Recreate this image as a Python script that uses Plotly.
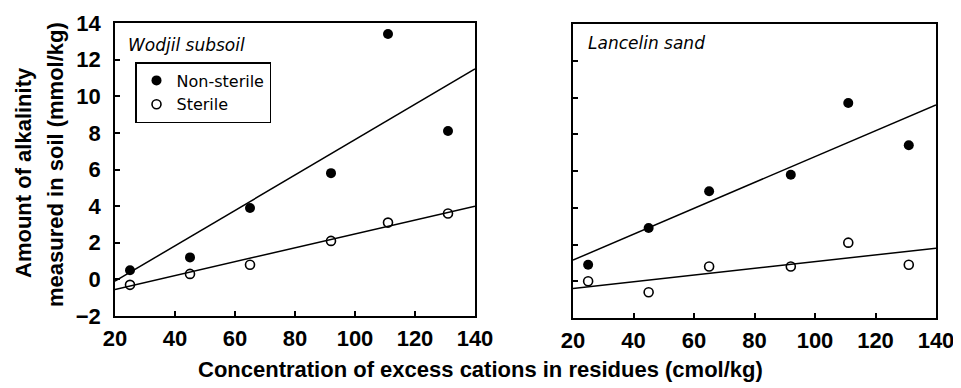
import plotly.graph_objects as go

# ---- data ----
x_vals = [25, 45, 65, 92, 111, 131]

wodjil_nonsterile = [0.5, 1.2, 3.9, 5.8, 13.4, 8.1]
wodjil_sterile = [-0.3, 0.3, 0.8, 2.1, 3.1, 3.6]

lancelin_nonsterile = [0.9, 2.9, 4.9, 5.8, 9.7, 7.4]
lancelin_sterile = [0.0, -0.6, 0.8, 0.8, 2.1, 0.9]

fit_x = [20, 140]
wodjil_fit_nonsterile = [-0.1, 11.5]
wodjil_fit_sterile = [-0.55, 4.0]
lancelin_fit_nonsterile = [1.15, 9.6]
lancelin_fit_sterile = [-0.4, 1.8]

x_ticks = [20, 40, 60, 80, 100, 120, 140]
y_ticks = [-2, 0, 2, 4, 6, 8, 10, 12, 14]

# page has an 8px body margin at top-left; figure fills the rest of the 961x388 window
OFF = 8
W, H = 961 - OFF, 388 - OFF

def px_x(p):
    return (p - OFF) / W

def px_y(p):
    return 1 - (p - OFF) / H

fig = go.Figure()

filled = dict(symbol="circle", size=10, color="black")
hollow = dict(symbol="circle-open", size=9, color="black", line=dict(width=1.6, color="black"))
line_style = dict(color="black", width=1.5)

# Left panel
fig.add_trace(go.Scatter(x=fit_x, y=wodjil_fit_nonsterile, mode="lines", line=line_style,
                         showlegend=False, xaxis="x", yaxis="y", hoverinfo="skip"))
fig.add_trace(go.Scatter(x=fit_x, y=wodjil_fit_sterile, mode="lines", line=line_style,
                         showlegend=False, xaxis="x", yaxis="y", hoverinfo="skip"))
fig.add_trace(go.Scatter(x=x_vals, y=wodjil_nonsterile, mode="markers", marker=filled,
                         name="Non-sterile", xaxis="x", yaxis="y"))
fig.add_trace(go.Scatter(x=x_vals, y=wodjil_sterile, mode="markers", marker=hollow,
                         name="Sterile", xaxis="x", yaxis="y"))

# Right panel
fig.add_trace(go.Scatter(x=fit_x, y=lancelin_fit_nonsterile, mode="lines", line=line_style,
                         showlegend=False, xaxis="x2", yaxis="y2", hoverinfo="skip"))
fig.add_trace(go.Scatter(x=fit_x, y=lancelin_fit_sterile, mode="lines", line=line_style,
                         showlegend=False, xaxis="x2", yaxis="y2", hoverinfo="skip"))
fig.add_trace(go.Scatter(x=x_vals, y=lancelin_nonsterile, mode="markers", marker=filled,
                         showlegend=False, xaxis="x2", yaxis="y2"))
fig.add_trace(go.Scatter(x=x_vals, y=lancelin_sterile, mode="markers", marker=hollow,
                         showlegend=False, xaxis="x2", yaxis="y2"))

tick_font = dict(family="Liberation Sans, Arial, sans-serif", size=22, color="black", weight="bold")

common_x = dict(range=[20, 140], tickvals=x_ticks, ticks="inside", ticklen=5, tickwidth=1.5,
                tickcolor="black", showline=True, linecolor="black", linewidth=1.5, mirror=True,
                showgrid=False, zeroline=False, tickfont=tick_font, automargin=False,
                ticklabelstandoff=2)
common_y = dict(range=[-2, 14], tickvals=y_ticks, ticks="inside", ticklen=5, tickwidth=1.5,
                tickcolor="black", showline=True, linecolor="black", linewidth=1.5, mirror=True,
                showgrid=False, zeroline=False, tickfont=tick_font, automargin=False,
                ticklabelstandoff=8)

ann_font_it = dict(family="DejaVu Sans, Verdana, sans-serif", size=17, color="black", style="italic")
title_font = dict(family="Liberation Sans, Arial, sans-serif", size=22, color="black", weight="bold")

fig.update_layout(
    width=W, height=H,
    margin=dict(l=0, r=0, t=0, b=0),
    paper_bgcolor="white", plot_bgcolor="white",
    xaxis=dict(domain=[px_x(115), px_x(475)], anchor="y", **common_x),
    yaxis=dict(domain=[px_y(316), px_y(23)], anchor="x", **common_y),
    xaxis2=dict(domain=[px_x(573), px_x(936)], anchor="y2", **common_x),
    yaxis2=dict(domain=[px_y(318), px_y(24)], anchor="x2", showticklabels=False, **common_y),
    showlegend=True,
    legend=dict(x=px_x(135), y=px_y(62), xanchor="left", yanchor="top",
                bordercolor="black", borderwidth=1.5, bgcolor="white",
                font=dict(family="DejaVu Sans, Verdana, sans-serif", size=16, color="black"),
                itemwidth=30, tracegroupgap=0),
    annotations=[
        dict(text="Wodjil subsoil", x=px_x(126), y=px_y(45), xref="paper", yref="paper",
             xanchor="left", yanchor="middle", showarrow=False, font=ann_font_it),
        dict(text="Lancelin sand", x=px_x(586), y=px_y(43), xref="paper", yref="paper",
             xanchor="left", yanchor="middle", showarrow=False, font=ann_font_it),
        dict(text="Concentration of excess cations in residues (cmol/kg)", x=px_x(480), y=px_y(369),
             xref="paper", yref="paper", xanchor="center", yanchor="middle", showarrow=False,
             font=dict(family="Liberation Sans, Arial, sans-serif", size=22, color="black", weight="bold")),
        dict(text="Amount of alkalinity", x=px_x(23), y=px_y(173),
             xref="paper", yref="paper", xanchor="center", yanchor="middle", showarrow=False,
             textangle=-90, font=title_font),
        dict(text="measured in soil (mmol/kg)", x=px_x(55), y=px_y(165),
             xref="paper", yref="paper", xanchor="center", yanchor="middle", showarrow=False,
             textangle=-90, font=title_font),
    ],
)

fig.write_html("out.html")
